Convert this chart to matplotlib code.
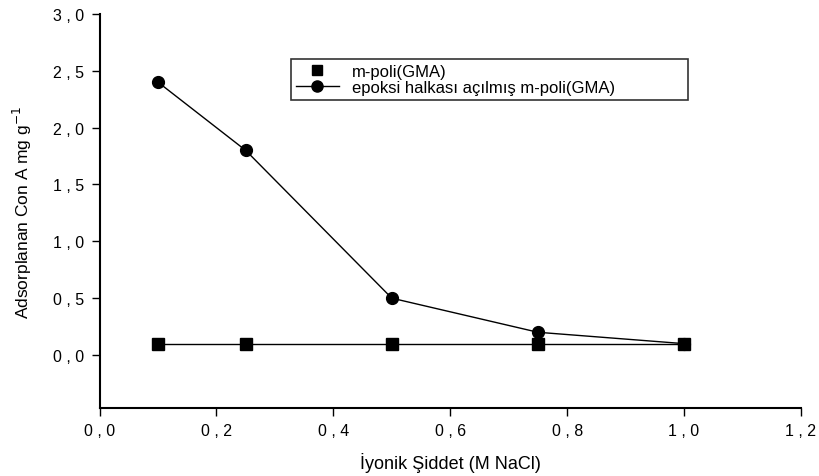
import matplotlib
matplotlib.use('Agg')
import matplotlib.pyplot as plt
from matplotlib.ticker import FuncFormatter
from matplotlib.lines import Line2D

plt.rcParams['font.family'] = ['Liberation Sans', 'DejaVu Sans']

# data
nacl = [0.1, 0.25, 0.5, 0.75, 1.0]
m_poli = [0.1, 0.1, 0.1, 0.1, 0.1]
epoksi = [2.4, 1.8, 0.5, 0.2, 0.1]

fig = plt.figure(figsize=(8.19, 4.77), dpi=100)
ax = fig.add_axes([0.1216, 0.1426, 0.8563, 0.826])

ax.plot(nacl, m_poli, color='black', lw=1.0, marker='s', markersize=8)
ax.plot(nacl, epoksi, color='black', lw=1.0, marker='o', markersize=8.5)

ax.set_xlim(0, 1.2)
ax.set_ylim(-0.466, 3.0)
ax.set_xticks([0, 0.2, 0.4, 0.6, 0.8, 1.0, 1.2])
ax.set_yticks([0, 0.5, 1.0, 1.5, 2.0, 2.5, 3.0])
fmt = FuncFormatter(lambda v, p: f'{v:.1f}'.replace('.', ' , '))
ax.xaxis.set_major_formatter(fmt)
ax.yaxis.set_major_formatter(fmt)

for s in ['top', 'right']:
    ax.spines[s].set_visible(False)
ax.spines['left'].set_linewidth(1.5)
ax.spines['bottom'].set_linewidth(1.5)
ax.tick_params(direction='out', length=6, width=1, labelsize=11.5, pad=5)

ax.set_xlabel('İyonik Şiddet (M NaCl)', fontsize=13, labelpad=10)
ax.set_ylabel(r'Adsorplanan Con A mg g$^{-1}$', fontsize=12.5, labelpad=14)

handles = [
    Line2D([], [], color='black', marker='s', linestyle='none', markersize=7),
    Line2D([], [], color='black', marker='o', lw=1.0, markersize=8),
]
labels = ['m-poli(GMA)', 'epoksi halkası açılmış m-poli(GMA)']
leg = ax.legend(handles, labels, loc='lower left',
                bbox_to_anchor=(0.2725, 0.782, 0.5665, 0.091), mode='expand',
                fontsize=12, frameon=True, fancybox=False, edgecolor='black',
                borderpad=0.3, borderaxespad=0, handlelength=2.6,
                handletextpad=0.8, labelspacing=0.05)
leg.get_frame().set_linewidth(1.2)

fig.savefig('out.png', dpi=100)
